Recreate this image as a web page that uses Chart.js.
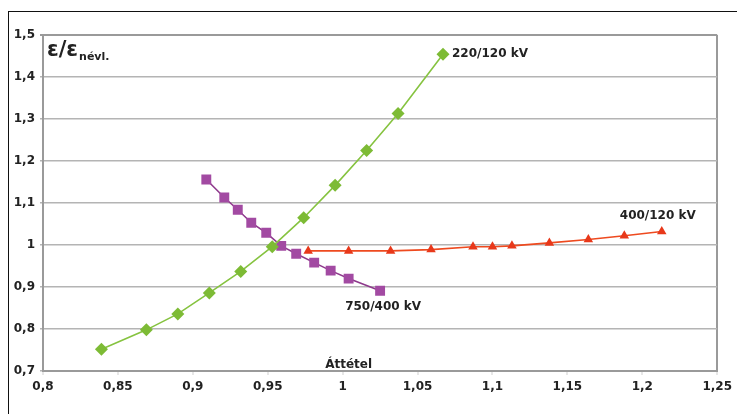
<!DOCTYPE html>
<html>
<head>
<meta charset="utf-8">
<script src="https://cdn.jsdelivr.net/npm/chart.js@4"></script>
<style>
  html, body { margin: 0; padding: 0; background: #fff; }
  #wrap { position: relative; width: 737px; height: 414px; overflow: hidden; }
  #frame { position: absolute; left: 8px; top: 11px; width: 740px; height: 420px;
           border-top: 1.5px solid #111; border-left: 1.5px solid #111; }
  canvas { position: absolute; left: 0; top: 0; }
</style>
</head>
<body>
<div id="wrap">
  <div id="frame"></div>
  <canvas id="chart" width="737" height="414"></canvas>
</div>
<script>
// Áttétel (x) és ε/ε névl. (y) értékek, leolvasva
const ratio220 = [0.839, 0.869, 0.890, 0.911, 0.932, 0.953, 0.974, 0.995, 1.016, 1.037, 1.067];
const eps220   = [0.752, 0.798, 0.836, 0.886, 0.937, 0.996, 1.065, 1.142, 1.225, 1.313, 1.454];

const ratio400 = [0.977, 1.004, 1.032, 1.059, 1.087, 1.100, 1.113, 1.138, 1.164, 1.188, 1.213];
const eps400   = [0.986, 0.986, 0.986, 0.989, 0.996, 0.996, 0.998, 1.005, 1.013, 1.022, 1.032];

const ratio750 = [0.909, 0.921, 0.930, 0.939, 0.949, 0.959, 0.969, 0.981, 0.992, 1.004, 1.025];
const eps750   = [1.156, 1.113, 1.084, 1.053, 1.029, 0.998, 0.979, 0.958, 0.939, 0.920, 0.891];

const seriesNames = ["220/120 kV", "400/120 kV", "750/400 kV"];

const xTickValues = [0.8, 0.85, 0.9, 0.95, 1, 1.05, 1.1, 1.15, 1.2, 1.25];
const xTickLabels = ["0,8", "0,85", "0,9", "0,95", "1", "1,05", "1,1", "1,15", "1,2", "1,25"];
const yTickValues = [0.7, 0.8, 0.9, 1, 1.1, 1.2, 1.3, 1.4, 1.5];
const yTickLabels = ["0,7", "0,8", "0,9", "1", "1,1", "1,2", "1,3", "1,4", "1,5"];

const xTitle = "Áttétel";

function toPoints(xs, ys) {
  return xs.map((x, i) => ({ x: x, y: ys[i] }));
}

function labelFor(values, labels, v) {
  const i = values.findIndex(t => Math.abs(t - v) < 1e-6);
  return i >= 0 ? labels[i] : "";
}

const FONT = "'DejaVu Sans', sans-serif";
const TEXT = "#222";

// felirat a sorozatok végpontjánál
const labelOffsets = [
  { dx: 9, dy: 0, align: "left" },
  { dx: -4, dy: -16, align: "center" },
  { dx: 3, dy: 16, align: "center" }
];

const annotations = {
  id: "annotations",
  afterDatasetsDraw(chart) {
    const ctx = chart.ctx;
    const area = chart.chartArea;
    ctx.save();
    ctx.fillStyle = TEXT;
    ctx.font = "bold 12px " + FONT;
    ctx.textBaseline = "middle";
    chart.data.datasets.forEach((ds, i) => {
      const meta = chart.getDatasetMeta(i);
      const last = meta.data[meta.data.length - 1];
      const off = labelOffsets[i];
      ctx.textAlign = off.align;
      ctx.fillText(ds.label, last.x + off.dx, last.y + off.dy);
    });

    // x tengely címe
    ctx.textAlign = "center";
    ctx.textBaseline = "alphabetic";
    ctx.fillText(xTitle, chart.scales.x.getPixelForValue(1.004), area.bottom - 3);

    // y tengely címe: ε/ε névl.
    ctx.textAlign = "left";
    ctx.font = "bold 21px " + FONT;
    ctx.fillText("ε/ε", area.left + 4, area.top + 21);
    const w = ctx.measureText("ε/ε").width;
    ctx.font = "bold 11px " + FONT;
    ctx.fillText("névl.", area.left + 5 + w, area.top + 25);
    ctx.restore();
  }
};

new Chart(document.getElementById("chart"), {
  type: "line",
  data: {
    datasets: [
      {
        label: seriesNames[0],
        data: toPoints(ratio220, eps220),
        borderColor: "#86c340",
        backgroundColor: "#7dbb35",
        borderWidth: 1.6,
        pointStyle: "rectRot",
        pointRadius: 6.5,
        pointBorderWidth: 0
      },
      {
        label: seriesNames[1],
        data: toPoints(ratio400, eps400),
        borderColor: "#ee4a1f",
        backgroundColor: "#e8381a",
        borderWidth: 1.6,
        pointStyle: "triangle",
        pointRadius: 5.5,
        pointBorderWidth: 0
      },
      {
        label: seriesNames[2],
        data: toPoints(ratio750, eps750),
        borderColor: "#8e3a8c",
        backgroundColor: "#a24aa2",
        borderWidth: 1.6,
        pointStyle: "rect",
        pointRadius: 7,
        pointBorderWidth: 0
      }
    ]
  },
  options: {
    responsive: false,
    animation: false,
    layout: { padding: { top: 35, right: 14, left: 0, bottom: 0 } },
    plugins: {
      legend: { display: false },
      tooltip: { enabled: false }
    },
    scales: {
      x: {
        type: "linear",
        min: 0.8,
        max: 1.25,
        afterBuildTicks: scale => { scale.ticks = xTickValues.map(v => ({ value: v })); },
        afterFit: scale => { scale.height = 43; },
        ticks: {
          callback: v => labelFor(xTickValues, xTickLabels, v),
          font: { family: FONT, size: 12, weight: "bold" },
          color: TEXT,
          padding: 5,
          maxRotation: 0
        },
        grid: {
          color: c => (c.tick && c.tick.value === 1.25 ? "#9a9a9a" : "rgba(0,0,0,0)"),
          lineWidth: 2,
          tickColor: "#cfcfcf",
          tickLength: 4,
          tickWidth: 1
        },
        border: { color: "#9a9a9a", width: 2 }
      },
      y: {
        type: "linear",
        min: 0.7,
        max: 1.5,
        afterBuildTicks: scale => { scale.ticks = yTickValues.map(v => ({ value: v })); },
        afterFit: scale => { scale.width = 43; },
        ticks: {
          callback: v => labelFor(yTickValues, yTickLabels, v),
          font: { family: FONT, size: 12, weight: "bold" },
          color: TEXT,
          padding: 5
        },
        grid: {
          color: c => (c.tick && c.tick.value === 1.5 ? "#9a9a9a" : "#b4b4b4"),
          lineWidth: c => (c.tick && c.tick.value === 1.5 ? 2 : 1.5),
          tickLength: 3
        },
        border: { color: "#9a9a9a", width: 2 }
      }
    }
  },
  plugins: [annotations]
});
</script>
</body>
</html>
